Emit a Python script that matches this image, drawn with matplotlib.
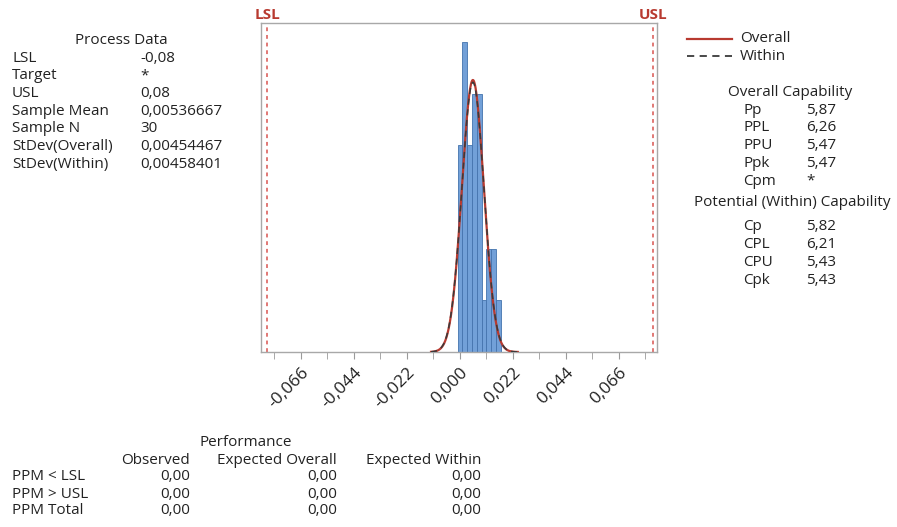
import numpy as np
import matplotlib
matplotlib.use("Agg")
from matplotlib import pyplot as plt

plt.rcParams["font.family"] = ["Open Sans", "DejaVu Sans"]

# 공정 데이터
lsl = -0.08
usl = 0.08
sample_mean = 0.00536667
sample_n = 30
sd_overall = 0.00454467
sd_within = 0.00458401

# 히스토그램 (구간 중심, 도수)
bin_width = 0.002
bin_centers = [0.000, 0.002, 0.004, 0.006, 0.008, 0.010, 0.012, 0.014, 0.016]
counts = [4, 6, 4, 5, 5, 1, 2, 2, 1]

tick_values = [-0.066, -0.044, -0.022, 0.000, 0.022, 0.044, 0.066]
tick_labels = ["-0,066", "-0,044", "-0,022", "0,000", "0,022", "0,044", "0,066"]
minor_values = [-0.077, -0.055, -0.033, -0.011, 0.011, 0.033, 0.055, 0.077]

process_labels = ["LSL", "Target", "USL", "Sample Mean", "Sample N",
                  "StDev(Overall)", "StDev(Within)"]
process_values = ["-0,08", "*", "0,08", "0,00536667", "30",
                  "0,00454467", "0,00458401"]

overall_labels = ["Pp", "PPL", "PPU", "Ppk", "Cpm"]
overall_values = ["5,87", "6,26", "5,47", "5,47", "*"]
within_labels = ["Cp", "CPL", "CPU", "Cpk"]
within_values = ["5,82", "6,21", "5,43", "5,43"]

perf_rows = ["PPM < LSL", "PPM > USL", "PPM Total"]
perf_cols = ["Observed", "Expected Overall", "Expected Within"]
perf_values = [["0,00", "0,00", "0,00"],
               ["0,00", "0,00", "0,00"],
               ["0,00", "0,00", "0,00"]]

W, H = 897, 527
TXT = "#222222"
RED = "#b83a30"
FS = 11


def px(x, y):
    return x / W, 1 - y / H


fig = plt.figure(figsize=(W / 100, H / 100), dpi=100)
ax = fig.add_axes([261 / W, 1 - 352 / H, (657 - 261) / W, (352 - 23) / H])

ax.bar(bin_centers, counts, width=bin_width, color="#72a0d8",
       edgecolor="#4473ad", linewidth=0.6, zorder=2)

x = np.linspace(-0.012, 0.024, 400)
scale = sample_n * bin_width
pdf_o = scale * np.exp(-0.5 * ((x - sample_mean) / sd_overall) ** 2) / (sd_overall * np.sqrt(2 * np.pi))
pdf_w = scale * np.exp(-0.5 * ((x - sample_mean) / sd_within) ** 2) / (sd_within * np.sqrt(2 * np.pi))
ax.plot(x, pdf_o, color=RED, lw=1.6, zorder=3)
ax.plot(x, pdf_w, color="#3a3a3a", lw=1.1, ls=(0, (4, 3)), zorder=4)

for v, name in [(lsl, "LSL"), (usl, "USL")]:
    ax.axvline(v, color="#d9534f", lw=1.1, ls=(0, (2.5, 2.5)), zorder=1)
    ax.text(v, 1.003, name, transform=ax.get_xaxis_transform(), ha="center",
            va="bottom", color=RED, fontsize=FS, fontweight="bold")

ax.set_xlim(-0.0826, 0.0818)
ax.set_ylim(0, 6.37)
ax.set_yticks([])
ax.set_xticks(tick_values)
ax.set_xticklabels(tick_labels, rotation=45, ha="right", va="top",
                   rotation_mode="anchor", fontsize=12.5, color=TXT)
ax.set_xticks(minor_values, minor=True)
ax.tick_params(axis="x", which="both", length=5, color="#9a9a9a", pad=4)
for s in ax.spines.values():
    s.set_color("#a8a8a8")
    s.set_linewidth(1.0)

# Process Data
fig.text(*px(121, 40), "Process Data", ha="center", va="center", fontsize=FS, color=TXT)
for i, (lab, val) in enumerate(zip(process_labels, process_values)):
    y = 58 + i * 17.7
    fig.text(*px(12, y), lab, ha="left", va="center", fontsize=FS, color=TXT)
    fig.text(*px(140, y), val, ha="left", va="center", fontsize=FS, color=TXT)

# 범례
fig.add_artist(plt.Line2D([687 / W, 732 / W], [1 - 39 / H] * 2, color=RED, lw=1.6))
fig.add_artist(plt.Line2D([687 / W, 732 / W], [1 - 56 / H] * 2, color="#3a3a3a",
                          lw=1.3, ls=(0, (4, 3))))
fig.text(*px(740, 39), "Overall", ha="left", va="center", fontsize=FS, color=TXT)
fig.text(*px(740, 57), "Within", ha="left", va="center", fontsize=FS, color=TXT)

# Capability
fig.text(*px(790, 92), "Overall Capability", ha="center", va="center", fontsize=FS, color=TXT)
for i, (lab, val) in enumerate(zip(overall_labels, overall_values)):
    y = 110 + i * 17.8
    fig.text(*px(743, y), lab, ha="left", va="center", fontsize=FS, color=TXT)
    fig.text(*px(806, y), val, ha="left", va="center", fontsize=FS, color=TXT)
fig.text(*px(792, 203), "Potential (Within) Capability", ha="center", va="center",
         fontsize=FS, color=TXT)
for i, (lab, val) in enumerate(zip(within_labels, within_values)):
    y = 227 + i * 17.8
    fig.text(*px(743, y), lab, ha="left", va="center", fontsize=FS, color=TXT)
    fig.text(*px(806, y), val, ha="left", va="center", fontsize=FS, color=TXT)

# Performance
fig.text(*px(246, 442), "Performance", ha="center", va="center", fontsize=FS, color=TXT)
col_x = [190, 337, 481]
for c, name in zip(col_x, perf_cols):
    fig.text(*px(c, 460), name, ha="right", va="center", fontsize=FS, color=TXT)
for r, name in enumerate(perf_rows):
    y = 477 + r * 17
    fig.text(*px(12, y), name, ha="left", va="center", fontsize=FS, color=TXT)
    for c, val in zip(col_x, perf_values[r]):
        fig.text(*px(c, y), val, ha="right", va="center", fontsize=FS, color=TXT)

fig.savefig("out.png", dpi=100)
